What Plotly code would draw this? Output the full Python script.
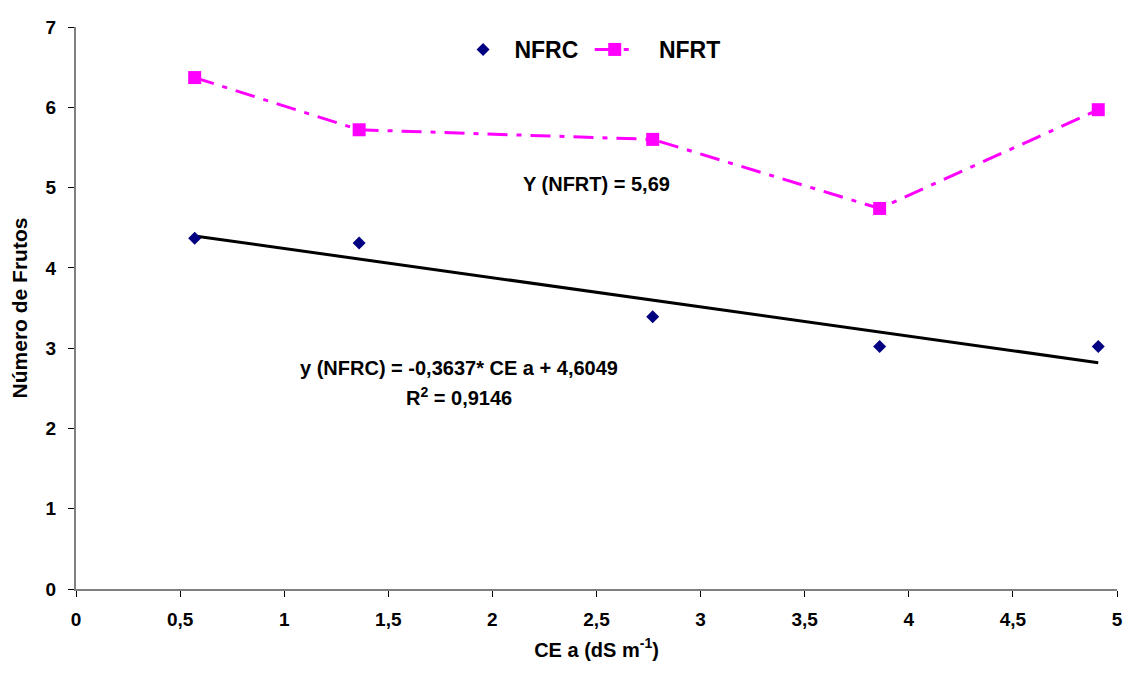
import plotly.graph_objects as go

# CE a (dS m-1) levels
ce_a = [0.57, 1.36, 2.77, 3.86, 4.91]
# Fruit counts
nfrc = [4.37, 4.31, 3.39, 3.02, 3.02]
nfrt = [6.37, 5.72, 5.60, 4.74, 5.97]

# Linear fit of NFRC
slope = -0.3637
intercept = 4.6049
fit_x = [ce_a[0], ce_a[-1]]
fit_y = [slope * v + intercept for v in fit_x]

x_ticks = [0, 0.5, 1, 1.5, 2, 2.5, 3, 3.5, 4, 4.5, 5]
x_tick_text = ["0", "0,5", "1", "1,5", "2", "2,5", "3", "3,5", "4", "4,5", "5"]
y_ticks = [0, 1, 2, 3, 4, 5, 6, 7]

FONT = "Liberation Sans, Arial, sans-serif"

fig = go.Figure()

fig.add_trace(go.Scatter(
    x=fit_x, y=fit_y, mode="lines",
    line=dict(color="black", width=3),
    showlegend=False, hoverinfo="skip",
))

fig.add_trace(go.Scatter(
    x=ce_a, y=nfrc, mode="markers", name="\u00a0<b>NFRC</b>\u00a0",
    marker=dict(symbol="diamond", size=10, color="#000080"),
))

fig.add_trace(go.Scatter(
    x=ce_a, y=nfrt, mode="lines+markers", name="\u00a0\u00a0\u00a0<b>NFRT</b>",
    line=dict(color="#FF00FF", width=3, dash="20px,9px,5px,9px"),
    marker=dict(symbol="square", size=13, color="#FF00FF"),
))

fig.add_annotation(
    x=2.5, y=5.05, xref="x", yref="y",
    text="<b>Y (NFRT) = 5,69</b>", showarrow=False,
    font=dict(family=FONT, size=20, color="black"),
)
fig.add_annotation(
    x=1.84, y=2.75, xref="x", yref="y",
    text="<b>y (NFRC) = -0,3637* CE a + 4,6049</b>", showarrow=False,
    font=dict(family=FONT, size=20, color="black"),
)
fig.add_annotation(
    x=1.84, y=2.4, xref="x", yref="y",
    text="<b>R<sup>2</sup> = 0,9146</b>", showarrow=False,
    font=dict(family=FONT, size=20, color="black"),
)

fig.update_layout(
    width=1127, height=673,
    margin=dict(l=76, r=10, t=27, b=84, autoexpand=False),
    paper_bgcolor="white", plot_bgcolor="white",
    font=dict(family=FONT, color="black"),
    legend=dict(
        orientation="h", x=0.367, y=0.96, xanchor="left", yanchor="middle",
        font=dict(family=FONT, size=23, color="black"),
        bgcolor="rgba(0,0,0,0)", itemwidth=40,
    ),
    xaxis=dict(
        range=[0, 5], tickvals=x_ticks, ticktext=x_tick_text,
        showgrid=False, zeroline=False, automargin=False,
        showline=True, linecolor="#808080", linewidth=2,
        ticks="outside", ticklen=6, tickcolor="black", tickwidth=1,
        tickfont=dict(family=FONT, size=19, color="black", weight="bold"),
        ticklabelstandoff=6,
        title=dict(text="<b>CE a (dS m<sup>-1</sup>)</b>",
                   font=dict(family=FONT, size=20, color="black"), standoff=14),
    ),
    yaxis=dict(
        range=[0, 7], tickvals=y_ticks,
        showgrid=False, zeroline=False, automargin=False,
        showline=True, linecolor="#808080", linewidth=2,
        ticks="outside", ticklen=6, tickcolor="black", tickwidth=1,
        tickfont=dict(family=FONT, size=19, color="black", weight="bold"),
        ticklabelstandoff=8,
        title=dict(text="<b>Número de Frutos</b>",
                   font=dict(family=FONT, size=21, color="black"), standoff=12),
    ),
)

fig.write_html("out.html")
